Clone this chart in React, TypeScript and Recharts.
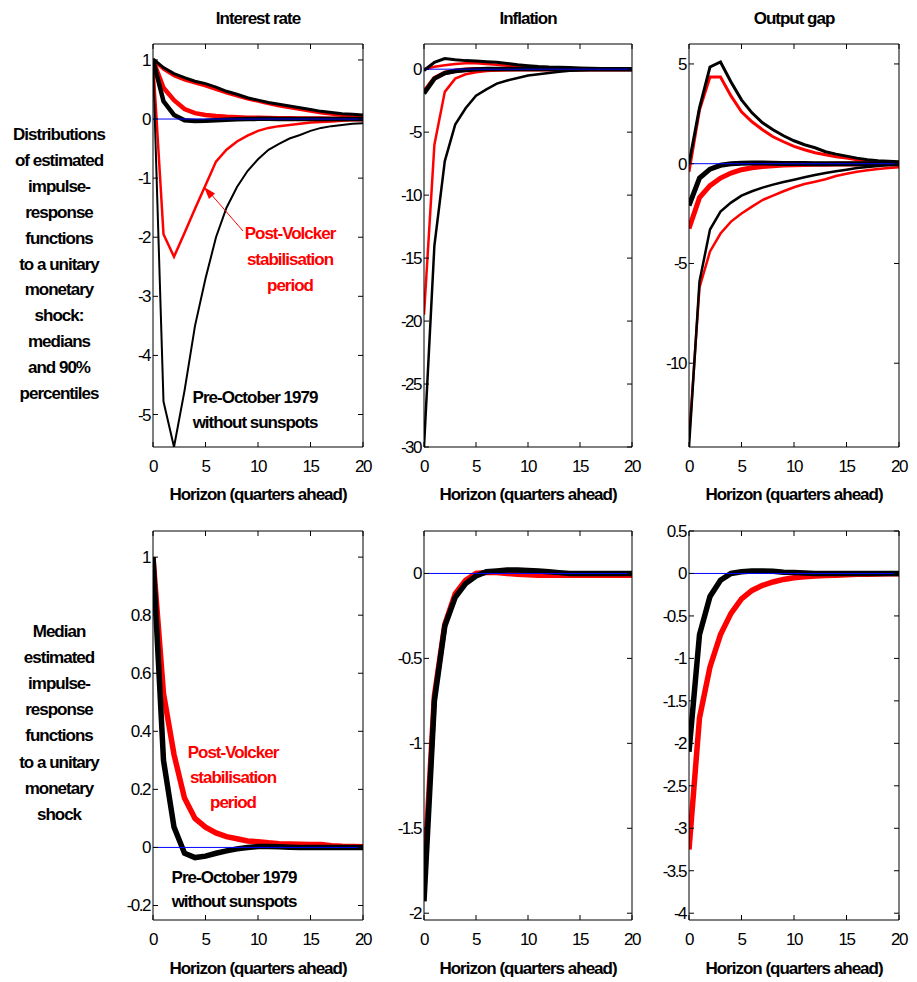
import React from 'react';
import { LineChart, Line, XAxis, YAxis, ReferenceLine } from 'recharts';

// horizon (quarters ahead)
const horizon = [0, 1, 2, 3, 4, 5, 6, 7, 8, 9, 10, 11, 12, 13, 14, 15, 16, 17, 18, 19, 20];
const xTicks = [0, 5, 10, 15, 20];

// interest rate: pre-Oct 1979 (black) and post-Volcker (red)
const irMedPre = [1, 0.3, 0.07, -0.02, -0.035, -0.03, -0.02, -0.012, -0.005, 0, 0.003, 0.003, 0.002, 0.001, 0, 0, 0, 0, 0, 0, 0];
const irMedPost = [1, 0.53, 0.32, 0.17, 0.1, 0.07, 0.05, 0.037, 0.03, 0.022, 0.02, 0.016, 0.013, 0.012, 0.011, 0.01, 0.01, 0.006, 0.004, 0.003, 0.002];
const irHiPre = [1.02, 0.87, 0.77, 0.7, 0.64, 0.6, 0.54, 0.47, 0.42, 0.36, 0.32, 0.28, 0.25, 0.22, 0.19, 0.16, 0.13, 0.11, 0.09, 0.08, 0.07];
const irHiPost = [1, 0.84, 0.73, 0.66, 0.61, 0.56, 0.5, 0.44, 0.39, 0.34, 0.3, 0.26, 0.22, 0.19, 0.16, 0.13, 0.1, 0.08, 0.06, 0.05, 0.04];
const irLoPre = [1, -4.78, -5.55, -4.6, -3.5, -2.7, -2.0, -1.5, -1.15, -0.88, -0.68, -0.52, -0.42, -0.33, -0.27, -0.2, -0.15, -0.12, -0.1, -0.08, -0.07];
const irLoPost = [1, -1.95, -2.33, -1.93, -1.52, -1.12, -0.72, -0.52, -0.38, -0.28, -0.2, -0.15, -0.12, -0.1, -0.08, -0.06, -0.05, -0.04, -0.03, -0.02, -0.02];

// inflation
const infMedPre = [-1.93, -0.75, -0.31, -0.14, -0.06, -0.015, 0.01, 0.015, 0.02, 0.02, 0.018, 0.015, 0.01, 0.005, 0, 0, 0, 0, 0, 0, 0];
const infMedPost = [-1.8, -0.72, -0.3, -0.12, -0.04, 0, 0.005, 0.005, 0, -0.005, -0.008, -0.01, -0.01, -0.01, -0.01, -0.01, -0.01, -0.01, -0.01, -0.01, -0.01];
const infHiPre = [-0.1, 0.55, 0.85, 0.75, 0.68, 0.65, 0.6, 0.55, 0.45, 0.35, 0.28, 0.22, 0.18, 0.16, 0.13, 0.1, 0.08, 0.06, 0.05, 0.04, 0.03];
const infHiPost = [0, 0.2, 0.32, 0.42, 0.48, 0.48, 0.42, 0.35, 0.28, 0.2, 0.15, 0.1, 0.08, 0.06, 0.05, 0.03, 0.02, 0.02, 0.01, 0.01, 0.01];
const infLoPre = [-30, -14, -7.3, -4.4, -3.1, -2.1, -1.6, -1.15, -0.9, -0.7, -0.5, -0.4, -0.3, -0.2, -0.12, -0.08, -0.05, -0.03, -0.02, -0.01, -0.01];
const infLoPost = [-19.5, -6.0, -1.8, -0.75, -0.4, -0.25, -0.15, -0.1, -0.07, -0.05, -0.04, -0.03, -0.02, -0.02, -0.01, -0.01, -0.01, -0.01, -0.01, -0.01, -0.01];

// output gap
const gapMedPre = [-2.1, -0.72, -0.27, -0.08, 0, 0.02, 0.03, 0.03, 0.025, 0.015, 0.01, 0.005, 0, 0, 0, 0, 0, 0, 0, 0, 0];
const gapMedPost = [-3.25, -1.7, -1.1, -0.72, -0.47, -0.3, -0.2, -0.14, -0.1, -0.07, -0.05, -0.04, -0.03, -0.025, -0.02, -0.015, -0.01, -0.008, -0.005, -0.003, -0.002];
const gapHiPre = [0, 2.8, 4.85, 5.1, 4.1, 3.2, 2.55, 2.05, 1.7, 1.4, 1.15, 0.95, 0.8, 0.6, 0.48, 0.38, 0.28, 0.2, 0.15, 0.12, 0.1];
const gapHiPost = [-0.4, 2.7, 4.35, 4.35, 3.4, 2.6, 2.1, 1.7, 1.35, 1.1, 0.87, 0.7, 0.55, 0.45, 0.35, 0.28, 0.2, 0.14, 0.1, 0.07, 0.05];
const gapLoPre = [-14.2, -5.9, -3.3, -2.4, -1.95, -1.6, -1.38, -1.2, -1.05, -0.92, -0.8, -0.68, -0.57, -0.47, -0.38, -0.3, -0.22, -0.16, -0.11, -0.07, -0.05];
const gapLoPost = [-13.8, -6.2, -4.4, -3.5, -2.9, -2.5, -2.15, -1.82, -1.6, -1.38, -1.18, -1.02, -0.9, -0.78, -0.62, -0.5, -0.4, -0.33, -0.27, -0.22, -0.18];

const columnTitles = ['Interest rate', 'Inflation', 'Output gap'];
const xLabel = 'Horizon (quarters ahead)';
const topRowLabel = ['Distributions', 'of estimated', 'impulse-', 'response', 'functions', 'to a unitary', 'monetary', 'shock:', 'medians', 'and 90%', 'percentiles'];
const bottomRowLabel = ['Median', 'estimated', 'impulse-', 'response', 'functions', 'to a unitary', 'monetary', 'shock'];
const postLabel = ['Post-Volcker', 'stabilisation', 'period'];
const preLabel = ['Pre-October 1979', 'without sunspots'];

const RED = '#ff0000';
const BLACK = '#000000';
const FONT = '"Liberation Sans", Arial, sans-serif';

type Series = { key: string; values: number[]; color: string; width: number };

const PAD_L = 60;
const PAD_T = 15;
const TICK = 5;

// inward ticks on bottom and top edges, label below
const makeXTick = (top: number, bottom: number) => (p: any) => (
  <g>
    <line x1={p.x} x2={p.x} y1={bottom} y2={bottom - TICK} stroke="#000" />
    <line x1={p.x} x2={p.x} y1={top} y2={top + TICK} stroke="#000" />
    <text x={p.x} y={bottom + 25} textAnchor="middle" fontSize={17} fontFamily={FONT} fill="#000"
      style={{ letterSpacing: '-1.5px' }}>{p.payload.value}</text>
  </g>
);

// inward ticks on left and right edges, label to the left
const makeYTick = (left: number, right: number) => (p: any) => (
  <g>
    <line x1={left} x2={left + TICK} y1={p.y} y2={p.y} stroke="#000" />
    <line x1={right} x2={right - TICK} y1={p.y} y2={p.y} stroke="#000" />
    <text x={left - 3} y={p.y + 6} textAnchor="end" fontSize={17} fontFamily={FONT} fill="#000"
      style={{ letterSpacing: '-1.5px' }}>{p.payload.value}</text>
  </g>
);

function Panel({ x, y, w, h, domain, ticks, series }: {
  x: number; y: number; w: number; h: number;
  domain: [number, number]; ticks: number[]; series: Series[];
}) {
  const data = horizon.map((hz, i) => {
    const row: any = { hz };
    series.forEach(s => { row[s.key] = s.values[i]; });
    return row;
  });
  return (
    <div style={{ position: 'absolute', left: x - PAD_L, top: y - PAD_T }}>
      <LineChart width={w + PAD_L + 10} height={h + PAD_T + 45} data={data}
        margin={{ top: PAD_T, right: 10, bottom: 0, left: 0 }}>
        <XAxis dataKey="hz" type="number" domain={[0, 20]} ticks={xTicks} interval={0}
          height={45} tickLine={false} stroke="#000" tick={makeXTick(PAD_T, PAD_T + h)} allowDataOverflow />
        <YAxis type="number" domain={domain} ticks={ticks} interval={0}
          width={PAD_L} tickLine={false} stroke="#000" tick={makeYTick(PAD_L, PAD_L + w)} allowDataOverflow />
        {series.map(s => (
          <Line key={s.key} type="linear" dataKey={s.key} stroke={s.color}
            strokeWidth={s.width} dot={false} activeDot={false} isAnimationActive={false} />
        ))}
        <ReferenceLine y={0} stroke="#0000ff" strokeWidth={1} />
        <ReferenceLine y={domain[1]} stroke="#000" strokeWidth={1} />
        <ReferenceLine x={20} stroke="#000" strokeWidth={1} />
      </LineChart>
    </div>
  );
}

function Lines({ lines, x, y0, dy, color, size = 17 }: { lines: string[]; x: number; y0: number; dy: number; color: string; size?: number }) {
  return (
    <>
      {lines.map((t, i) => (
        <text key={i} x={x} y={y0 + i * dy} textAnchor="middle" fill={color} fontSize={size}
          fontWeight="bold" fontFamily={FONT} style={{ letterSpacing: '-1px' }}>{t}</text>
      ))}
    </>
  );
}

const cols = [{ x: 153, w: 210 }, { x: 424, w: 208 }, { x: 689, w: 210 }];

export default function App() {
  return (
    <div style={{ position: 'absolute', left: 0, top: 0, width: 917, height: 982, background: '#fff' }}>
      <Panel x={153} y={44} w={210} h={403} domain={[-5.55, 1.27]} ticks={[-5, -4, -3, -2, -1, 0, 1]} series={[
        { key: 'hiPost', values: irHiPost, color: RED, width: 3 },
        { key: 'loPost', values: irLoPost, color: RED, width: 2.5 },
        { key: 'medPost', values: irMedPost, color: RED, width: 4.5 },
        { key: 'hiPre', values: irHiPre, color: BLACK, width: 3 },
        { key: 'loPre', values: irLoPre, color: BLACK, width: 2 },
        { key: 'medPre', values: irMedPre, color: BLACK, width: 4.5 },
      ]} />
      <Panel x={424} y={44} w={208} h={403} domain={[-30, 2]} ticks={[-30, -25, -20, -15, -10, -5, 0]} series={[
        { key: 'hiPost', values: infHiPost, color: RED, width: 2.5 },
        { key: 'loPost', values: infLoPost, color: RED, width: 2.5 },
        { key: 'medPost', values: infMedPost, color: RED, width: 4.5 },
        { key: 'hiPre', values: infHiPre, color: BLACK, width: 3 },
        { key: 'loPre', values: infLoPre, color: BLACK, width: 2.5 },
        { key: 'medPre', values: infMedPre, color: BLACK, width: 4.5 },
      ]} />
      <Panel x={689} y={44} w={210} h={403} domain={[-14.2, 6]} ticks={[-10, -5, 0, 5]} series={[
        { key: 'hiPost', values: gapHiPost, color: RED, width: 3 },
        { key: 'loPost', values: gapLoPost, color: RED, width: 2.5 },
        { key: 'medPost', values: gapMedPost, color: RED, width: 5 },
        { key: 'hiPre', values: gapHiPre, color: BLACK, width: 3 },
        { key: 'loPre', values: gapLoPre, color: BLACK, width: 2.5 },
        { key: 'medPre', values: gapMedPre, color: BLACK, width: 5 },
      ]} />
      <Panel x={153} y={531} w={210} h={389} domain={[-0.25, 1.09]} ticks={[-0.2, 0, 0.2, 0.4, 0.6, 0.8, 1]} series={[
        { key: 'medPost', values: irMedPost, color: RED, width: 5.5 },
        { key: 'medPre', values: irMedPre, color: BLACK, width: 5.5 },
      ]} />
      <Panel x={424} y={531} w={208} h={389} domain={[-2.04, 0.25]} ticks={[-2, -1.5, -1, -0.5, 0]} series={[
        { key: 'medPost', values: infMedPost, color: RED, width: 5.5 },
        { key: 'medPre', values: infMedPre, color: BLACK, width: 5.5 },
      ]} />
      <Panel x={689} y={531} w={210} h={389} domain={[-4.08, 0.5]} ticks={[-4, -3.5, -3, -2.5, -2, -1.5, -1, -0.5, 0, 0.5]} series={[
        { key: 'medPost', values: gapMedPost, color: RED, width: 5.5 },
        { key: 'medPre', values: gapMedPre, color: BLACK, width: 5.5 },
      ]} />

      <svg width={917} height={982} style={{ position: 'absolute', left: 0, top: 0, pointerEvents: 'none' }}>
        {cols.map((c, i) => (
          <React.Fragment key={i}>
            <Lines lines={[columnTitles[i]]} x={c.x + c.w / 2} y0={24} dy={0} color={BLACK} />
            <Lines lines={[xLabel]} x={c.x + c.w / 2} y0={500} dy={0} color={BLACK} />
            <Lines lines={[xLabel]} x={c.x + c.w / 2} y0={974} dy={0} color={BLACK} />
          </React.Fragment>
        ))}
        <Lines lines={topRowLabel} x={59} y0={140} dy={25.9} color={BLACK} />
        <Lines lines={bottomRowLabel} x={59} y0={637} dy={26.1} color={BLACK} />

        <Lines lines={postLabel} x={290} y0={239} dy={26} color={RED} />
        <Lines lines={preLabel} x={255} y0={403} dy={25} color={BLACK} />
        <line x1={243} y1={231} x2={210} y2={193} stroke={RED} strokeWidth={1} />
        <polygon points="204,187 215,193.5 209,199" fill={RED} />

        <Lines lines={postLabel} x={233} y0={758} dy={25} color={RED} />
        <Lines lines={preLabel} x={234} y0={883} dy={24} color={BLACK} />
      </svg>
    </div>
  );
}
